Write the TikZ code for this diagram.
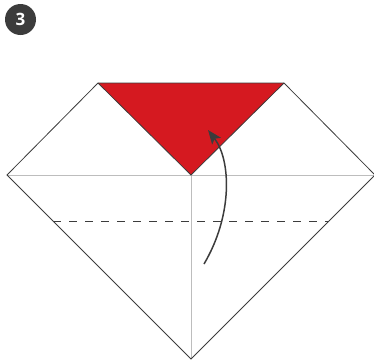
\documentclass[tikz,border=0pt]{standalone}
\usepackage{fontspec}
\setsansfont{Open Sans}
\usepackage{xcolor}
\usepackage{tikz}
\usetikzlibrary{arrows.meta, positioning, calc}
\definecolor{foldred}{HTML}{D51920}
\definecolor{inkgray}{HTML}{3C3C3C}
\definecolor{creasegray}{HTML}{BDBDBD}
\tikzstyle{edge} = [draw=inkgray, line width=0.8pt, line join=miter]
\tikzstyle{crease} = [draw=creasegray, line width=0.8pt]
\tikzstyle{valley} = [draw=inkgray, line width=0.9pt, dash pattern=on 8pt off 8pt]
\tikzstyle{arrow} = [draw=inkgray, line width=1.5pt, -{Stealth[length=14pt, width=11pt, inset=3pt]}]
\tikzstyle{badge} = [circle, fill=inkgray, minimum size=31pt, inner sep=0pt, text=white, font=\sffamily\bfseries\fontsize{17}{17}\selectfont]

\begin{document}
\begin{tikzpicture}[x=1pt, y=-1pt]
            \useasboundingbox (0,0) rectangle (374,360);
            % Step number
            \node (stepno) [badge] at (20.5,19.5) {3};

            % Corners of the paper
            \coordinate (left) at (7,175);
            \coordinate (right) at (375,175);
            \coordinate (bottom) at (191,359);
            \coordinate (topleft) at (98,83);
            \coordinate (topright) at (284,83);
            \coordinate (centre) at (191,175);

            % Creases
            \draw [crease] (left) -- (right);
            \draw [crease] (centre) -- (bottom);

            % Folded flap
            \fill [foldred] (topleft) -- (topright) -- (centre) -- cycle;

            % Outline
            \draw [edge] (topleft) -- (left) -- (bottom) -- (right) -- (topright) -- cycle;
            \draw [edge] (topleft) -- (centre) -- (topright);

            % Valley fold line
            \coordinate (dashl) at (53,221);
            \coordinate (dashr) at (329,221);
            \draw [valley] (dashl) -- (dashr);

            % Fold up
            \coordinate (from) at (204,264);
            \coordinate (to) at (208,130);
            \draw [arrow] (from) .. controls (233,215) and (231,160) .. (to);
        \end{tikzpicture}
\end{document}
